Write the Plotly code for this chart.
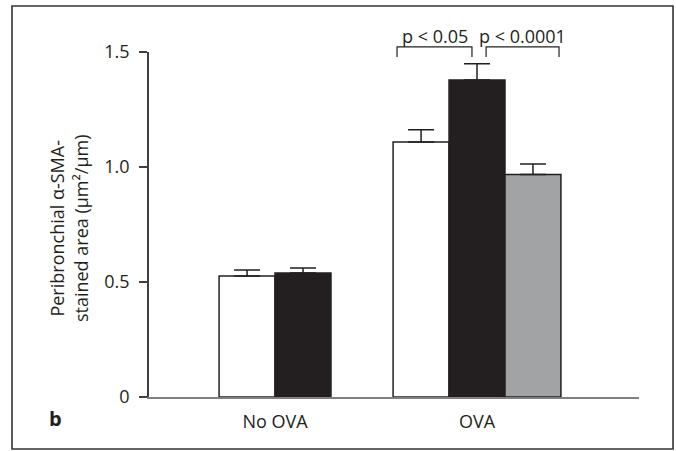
import plotly.graph_objects as go

groups = ["No OVA", "OVA"]
white_vals = [0.526, 1.109]
white_err = [0.026, 0.053]
black_vals = [0.539, 1.378]
black_err = [0.022, 0.071]
gray_groups = ["OVA"]
gray_vals = [0.967]
gray_err = [0.046]

y_ticks = [0, 0.5, 1.0, 1.5]
y_ticklabels = ["0", "0.5", "1.0", "1.5"]

p_labels = ["p < 0.05", "p < 0.0001"]
bracket_x = [(0.604, 0.975), (1.045, 1.406)]
bracket_top = 1.522
bracket_leg = 1.478

FONT = "Open Sans"
DARK = "#231f20"
W = 0.277
YMAX = 1.5

fig = go.Figure()
common = dict(width=W, marker_line_color=DARK, marker_line_width=1.5, showlegend=False)
errstyle = dict(type="data", symmetric=False, color=DARK, thickness=1.5, width=13)

fig.add_trace(go.Bar(x=groups, y=white_vals, offset=[-W, -1.5 * W], marker_color="white",
                     error_y=dict(array=white_err, **errstyle), **common))
fig.add_trace(go.Bar(x=groups, y=black_vals, offset=[0, -0.5 * W], marker_color=DARK,
                     error_y=dict(array=black_err, **errstyle), **common))
fig.add_trace(go.Bar(x=gray_groups, y=gray_vals, offset=[0.5 * W], marker_color="#a2a3a5",
                     error_y=dict(array=gray_err, **errstyle), **common))

for (x0, x1), lab in zip(bracket_x, p_labels):
    yt = bracket_top / YMAX
    yl = bracket_leg / YMAX
    fig.add_shape(type="path", xref="x", yref="paper",
                  path=f"M {x0},{yl} L {x0},{yt} L {x1},{yt} L {x1},{yl}",
                  line=dict(color=DARK, width=1.2))
    fig.add_annotation(x=(x0 + x1) / 2, y=yt, xref="x", yref="paper", text=lab,
                       showarrow=False, yanchor="bottom", yshift=-3,
                       font=dict(family=FONT, size=18, color=DARK))

# outer frame
fig.add_shape(type="rect", xref="paper", yref="paper", x0=-0.2796, x1=1.0694, y0=-0.1507, y1=1.1333,
              line=dict(color="#333333", width=1.6))

# y title
fig.add_annotation(xref="paper", yref="paper", x=-0.163, y=0.49, text="Peribronchial α-SMA-<br>stained area (μm²/μm)",
                   textangle=-90, showarrow=False, font=dict(family=FONT, size=18, color=DARK),
                   xanchor="center", yanchor="middle", align="center")
# panel letter
fig.add_annotation(xref="paper", yref="paper", x=-0.190, y=-0.061, text="<b>b</b>", showarrow=False,
                   font=dict(family=FONT, size=20, color=DARK), xanchor="center", yanchor="middle")

fig.update_layout(
    width=676, height=451,
    margin=dict(l=149, r=37, t=52, b=54),
    plot_bgcolor="white", paper_bgcolor="white",
    font=dict(family=FONT, size=18, color=DARK),
    barmode="overlay",
    xaxis=dict(range=[-0.624, 1.802], showline=True, linecolor="#808080", linewidth=1.5,
               ticks="", showgrid=False, zeroline=False, tickfont=dict(size=18),
               ticklabelstandoff=8),
    yaxis=dict(range=[0, YMAX], tickvals=y_ticks, ticktext=y_ticklabels, showline=True,
               linecolor="#404040", linewidth=1.5, ticks="outside", ticklen=8, tickwidth=1.5,
               tickcolor="#404040", showgrid=False, zeroline=False, tickfont=dict(size=18),
               ticklabelstandoff=6),
)

fig.write_html("out.html")
